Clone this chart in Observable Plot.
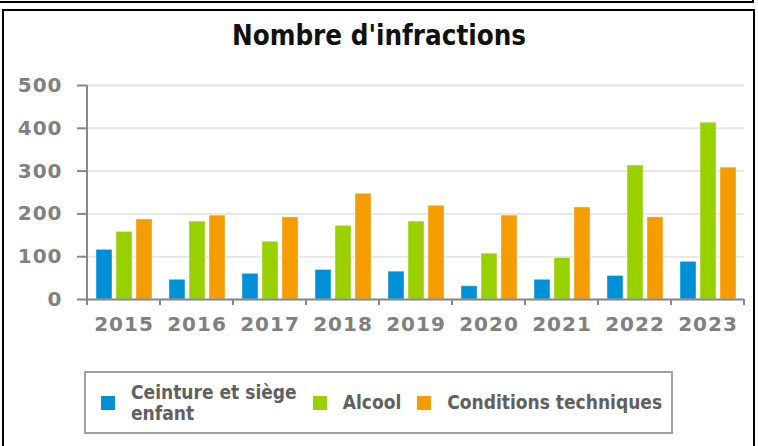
<!DOCTYPE html>
<html>
<head>
<meta charset="utf-8">
<script src="https://cdn.jsdelivr.net/npm/d3@7"></script>
<script src="https://cdn.jsdelivr.net/npm/@observablehq/plot@0.6"></script>
<style>
  html, body { margin: 0; padding: 0; background: #fff; width: 758px; height: 446px; overflow: hidden; }
  body { position: relative; }
  .topbox { position: absolute; box-sizing: border-box; left: -5px; top: -10px; width: 759px; height: 13px; border: 2px solid #000; }
  .mainbox { position: absolute; box-sizing: border-box; left: 2px; top: 9px; width: 753px; height: 500px; border: 2px solid #000; }
  #chart { position: absolute; left: 0; top: 0; }
  .title { position: absolute; left: 0; top: 22px; width: 758px; text-align: center; font-family: "DejaVu Sans Condensed", "DejaVu Sans"; font-stretch: condensed; font-weight: bold; font-size: 27.5px; line-height: 27px; color: #111; }
  .legend { position: absolute; box-sizing: border-box; left: 84px; top: 371px; width: 589px; height: 63px; border: 2px solid #a0a0a0; display: flex; align-items: center; padding-left: 15px; font-family: "DejaVu Sans Condensed", "DejaVu Sans"; font-stretch: condensed; font-weight: bold; font-size: 19px; line-height: 21px; color: #606060; white-space: nowrap; }
  .item { display: flex; align-items: center; margin-right: 16px; flex: none; }
  .sw { width: 14px; height: 14px; margin-right: 16px; flex: none; }
</style>
</head>
<body>
<div class="topbox"></div>
<div class="mainbox"></div>
<div id="chart"></div>
<div class="title">Nombre d'infractions</div>
<div class="legend" id="legend"></div>
<script>
const years = ["2015","2016","2017","2018","2019","2020","2021","2022","2023"];
const series = ["Ceinture et siège enfant","Alcool","Conditions techniques"];
const ceinture = [116,46,60,69,65,31,46,55,88];
const alcool = [158,182,135,172,182,107,97,313,413];
const conditions = [187,196,192,247,219,196,215,192,308];
const yTicks = [0,100,200,300,400,500];
const colors = ["#0090d5","#99d100","#f49c00"];

const values = [ceinture, alcool, conditions];
const data = years.flatMap((year, i) => series.map((s, j) => ({year, series: s, value: values[j][i]})));

const plot = Plot.plot({
  width: 758, height: 340,
  marginLeft: 86, marginRight: 13, marginTop: 85, marginBottom: 41,
  style: {fontFamily: "DejaVu Sans", fontWeight: "bold", fontSize: "20px", color: "#808080", background: "transparent", overflow: "visible", letterSpacing: "1px"},
  fx: {domain: years, padding: 0, label: null},
  x: {domain: series, paddingInner: 0.2, paddingOuter: 0.35, axis: null},
  y: {domain: [0, 500], label: null},
  color: {domain: series, range: colors},
  marks: [
    Plot.gridY(yTicks, {stroke: "#e6e6e6", strokeOpacity: 1, strokeWidth: 2}),
    Plot.barY(data, {fx: "year", x: "series", y: "value", fill: "series", stroke: "white", strokeOpacity: 0.4, strokeWidth: 1}),
    Plot.ruleY([0], {stroke: "#888", strokeWidth: 2}),
    Plot.axisY(yTicks, {tickSize: 10, tickPadding: 15, strokeWidth: 2, stroke: "#888", label: null}),
    Plot.axisFx({anchor: "bottom", tickSize: 0, tickPadding: 17, label: null})
  ]
});

// vertical axis line and category boundary ticks from the plot's own scales
const fx = plot.scale("fx");
const y = plot.scale("y");
const g = d3.select(plot).append("g").attr("stroke", "#888").attr("stroke-width", 2);
g.append("line").attr("x1", fx.apply(years[0])).attr("x2", fx.apply(years[0]))
  .attr("y1", y.apply(500)).attr("y2", y.apply(0) + 6);
const bounds = years.map(d => fx.apply(d)).concat([fx.apply(years[years.length - 1]) + fx.bandwidth]);
bounds.forEach(b => {
  g.append("line").attr("x1", b).attr("x2", b).attr("y1", y.apply(0)).attr("y2", y.apply(0) + 6);
});

document.getElementById("chart").appendChild(plot);

const legend = document.getElementById("legend");
const legendLabels = ["Ceinture et siège<br>enfant", "Alcool", "Conditions techniques"];
series.forEach((s, i) => {
  const item = document.createElement("div");
  item.className = "item";
  item.innerHTML = `<div class="sw" style="background:${colors[i]}"></div><div>${legendLabels[i]}</div>`;
  legend.appendChild(item);
});
</script>
</body>
</html>
